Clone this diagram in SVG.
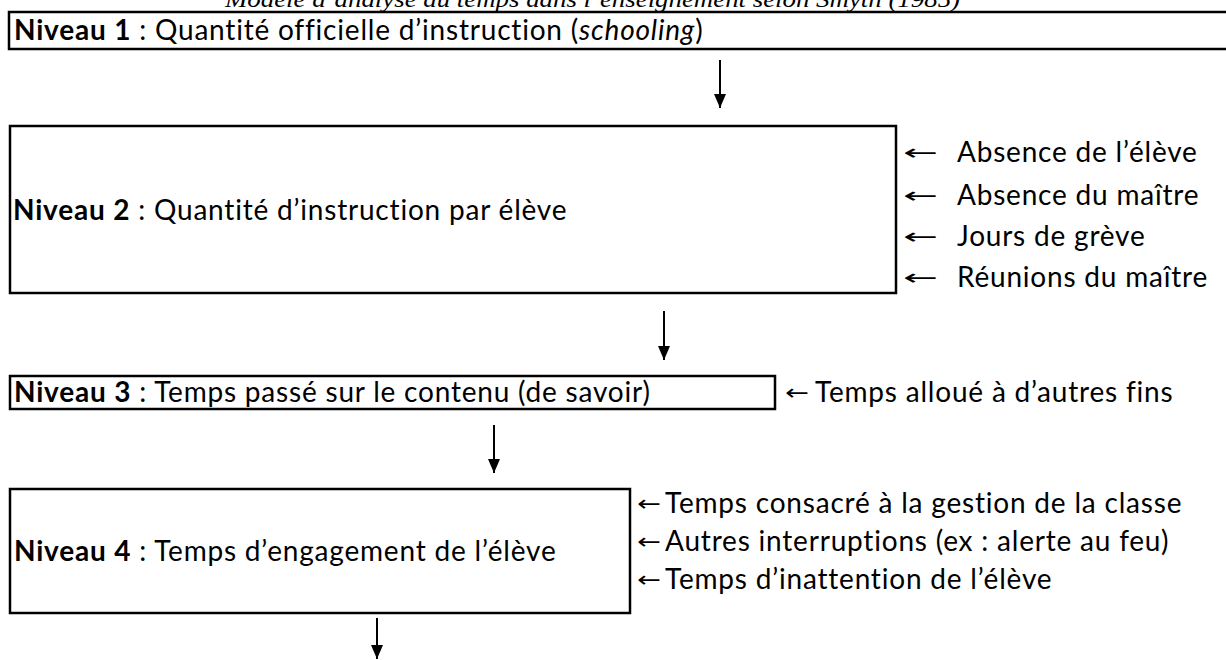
<svg xmlns="http://www.w3.org/2000/svg" width="1226" height="660" viewBox="0 0 1226 660">
<style>
.box{fill:#fff;stroke:#000;stroke-width:2.5}
.t{font-family:Lato,"Open Sans","Liberation Sans",sans-serif;font-size:28px;letter-spacing:0.8px;font-variant-ligatures:none;fill:#000}
.b{font-weight:bold}
.title{font-family:"Liberation Serif",serif;font-style:italic;font-size:24px;fill:#000}
.arr{font-family:"DejaVu Sans","Liberation Serif",serif;font-size:22px;fill:#000}
.conn line{stroke:#000;stroke-width:2}
</style>
<defs>
<marker id="ah" markerWidth="14" markerHeight="12" refX="14" refY="6" orient="auto" markerUnits="userSpaceOnUse" viewBox="0 0 14 12">
<path d="M0,0 L14,6 L0,12 Z" fill="#000"/>
</marker>
</defs>
<text class="title" x="225" y="7" textLength="735" lengthAdjust="spacingAndGlyphs">Modèle d’analyse du temps dans l’enseignement selon Smyth (1985)</text>
<g id="n1">
<rect class="box" x="9" y="12" width="1230" height="37"/>
<text class="t" x="14" y="40"><tspan class="b">Niveau 1</tspan> : Quantité officielle d’instruction (<tspan font-style="italic">schooling</tspan>)</text>
</g>
<g id="n2">
<rect class="box" x="10" y="126" width="886" height="167"/>
<text class="t" x="13" y="220"><tspan class="b">Niveau 2</tspan> : Quantité d’instruction par élève</text>
</g>
<g id="n2-labels">
<text class="arr" x="903" y="160" textLength="35" lengthAdjust="spacingAndGlyphs">←</text>
<text class="t" x="957" y="162">Absence de l’élève</text>
<text class="arr" x="903" y="203" textLength="35" lengthAdjust="spacingAndGlyphs">←</text>
<text class="t" x="957" y="205">Absence du maître</text>
<text class="arr" x="903" y="244" textLength="35" lengthAdjust="spacingAndGlyphs">←</text>
<text class="t" x="957" y="246">Jours de grève</text>
<text class="arr" x="903" y="285" textLength="35" lengthAdjust="spacingAndGlyphs">←</text>
<text class="t" x="957" y="287">Réunions du maître</text>
</g>
<g id="n3">
<rect class="box" x="10" y="376" width="765" height="33"/>
<text class="t" x="14" y="402"><tspan class="b">Niveau 3</tspan> : Temps passé sur le contenu (de savoir)</text>
</g>
<g id="n3-labels">
<text class="arr" x="785" y="400" textLength="24" lengthAdjust="spacingAndGlyphs">←</text>
<text class="t" x="815" y="402">Temps alloué à d’autres fins</text>
</g>
<g id="n4">
<rect class="box" x="10" y="489" width="620" height="124"/>
<text class="t" x="14" y="561"><tspan class="b">Niveau 4</tspan> : Temps d’engagement de l’élève</text>
</g>
<g id="n4-labels">
<text class="arr" x="637" y="511" textLength="24" lengthAdjust="spacingAndGlyphs">←</text>
<text class="t" x="665" y="513">Temps consacré à la gestion de la classe</text>
<text class="arr" x="637" y="549" textLength="24" lengthAdjust="spacingAndGlyphs">←</text>
<text class="t" x="665" y="551">Autres interruptions (ex : alerte au feu)</text>
<text class="arr" x="637" y="587" textLength="24" lengthAdjust="spacingAndGlyphs">←</text>
<text class="t" x="665" y="589">Temps d’inattention de l’élève</text>
</g>
<g id="connectors" class="conn">
<line x1="720" y1="60" x2="720" y2="108" marker-end="url(#ah)"/>
<line x1="664" y1="311" x2="664" y2="360" marker-end="url(#ah)"/>
<line x1="494" y1="425" x2="494" y2="473" marker-end="url(#ah)"/>
<line x1="377" y1="618" x2="377" y2="659" marker-end="url(#ah)"/>
</g>
</svg>
